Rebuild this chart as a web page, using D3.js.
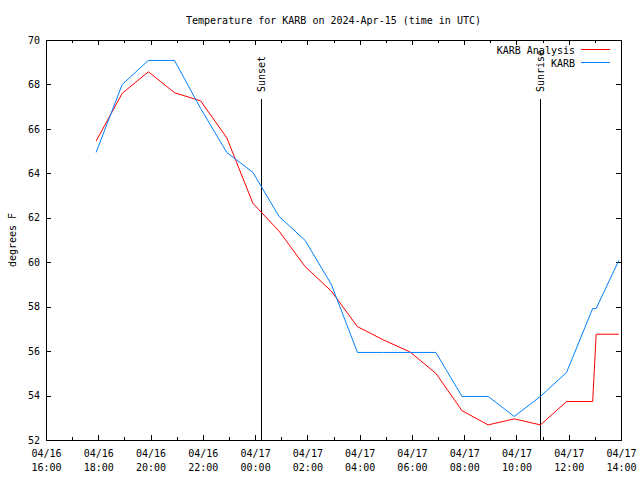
<!DOCTYPE html>
<html><head><meta charset="utf-8">
<script src="https://cdn.jsdelivr.net/npm/d3@7"></script>
<style>
body{margin:0;background:#fff}
svg{display:block}
text{font-family:"DejaVu Sans Mono","Liberation Mono",monospace;font-size:10px;fill:#000}
</style>
</head><body><svg id="c" width="640" height="480"></svg>
<script>
// ---- data ----
const times = [
  "2024-04-16 17:55","2024-04-16 18:55","2024-04-16 19:55","2024-04-16 20:55",
  "2024-04-16 21:55","2024-04-16 22:55","2024-04-16 23:55","2024-04-17 00:55",
  "2024-04-17 01:55","2024-04-17 02:55","2024-04-17 03:55","2024-04-17 04:55",
  "2024-04-17 05:55","2024-04-17 06:55","2024-04-17 07:55","2024-04-17 08:55",
  "2024-04-17 09:55","2024-04-17 10:55","2024-04-17 11:55","2024-04-17 12:55",
  "2024-04-17 13:03","2024-04-17 13:55"];
const karbAnalysis = [65.45,67.6,68.57,67.63,67.26,65.6,62.65,61.4,59.8,58.7,57.1,56.5,
  55.97,55.0,53.32,52.68,52.95,52.68,53.73,53.73,56.76,56.76];
const karb = [64.94,68.0,69.08,69.08,66.92,64.94,64.04,62.06,60.98,59.0,55.94,55.94,
  55.94,55.94,53.96,53.96,53.06,53.96,55.04,57.92,57.92,60.08];
const seriesNames = ["KARB Analysis","KARB"];
const seriesColors = ["#ff0000","#0080ff"];
const yTicks = [52,54,56,58,60,62,64,66,68,70];
const xDomain = ["2024-04-16 16:00","2024-04-17 14:00"];
const eventLabels = ["Sunset","Sunrise"];
const eventTimes = ["2024-04-17 00:14","2024-04-17 10:54"];
const titleText = "Temperature for KARB on 2024-Apr-15 (time in UTC)";
const yLabel = "degrees F";

// ---- layout ----
const L=46, R=621, T=40, B=440;
const parse = d3.utcParse("%Y-%m-%d %H:%M");
const svg = d3.select("#c");
svg.append("rect").attr("width",640).attr("height",480).attr("fill","#fff");

const x = d3.scaleUtc().domain(xDomain.map(parse)).range([L,R]);
const y = d3.scaleLinear().domain([52,70]).range([B,T]);

// minor ticks (hourly)
const minorB = d3.axisBottom(x).ticks(d3.utcHour.every(1)).tickSize(-3).tickFormat("");
const minorT = d3.axisTop(x).ticks(d3.utcHour.every(1)).tickSize(-3).tickFormat("");
// major ticks
const fmtD = d3.utcFormat("%m/%d"), fmtH = d3.utcFormat("%H:%M");
const majorB = d3.axisBottom(x).ticks(d3.utcHour.every(2)).tickSize(-5).tickPadding(9).tickFormat(fmtD);
const majorT = d3.axisTop(x).ticks(d3.utcHour.every(2)).tickSize(-5).tickFormat("");
const yL = d3.axisLeft(y).tickValues(yTicks).tickSize(-5).tickPadding(6).tickFormat(d3.format("d"));
const yR = d3.axisRight(y).tickValues(yTicks).tickSize(-5).tickFormat("");

function add(ax, tr){
  const g = svg.append("g").attr("transform",tr).call(ax);
  g.select(".domain").remove();
  g.selectAll("line").attr("stroke","#000").attr("shape-rendering","crispEdges");
  g.selectAll("text").attr("font-family",null).attr("font-size",null).attr("fill","#000");
  return g;
}
add(minorB,`translate(0,${B})`);
add(minorT,`translate(0,${T})`);
const gx = add(majorB,`translate(0,${B})`);
add(majorT,`translate(0,${T})`);
const gy = add(yL,`translate(${L},0)`);
add(yR,`translate(${R},0)`);

gx.selectAll(".tick text").each(function(d){
  const t = d3.select(this);
  t.text(null).attr("y",null).attr("dy",null);
  t.append("tspan").attr("x",0).attr("y",13).attr("dy","0.35em").text(fmtD(d));
  t.append("tspan").attr("x",0).attr("y",27).attr("dy","0.35em").text(fmtH(d));
});
gy.selectAll(".tick text").attr("x",-6);

// frame
svg.append("rect").attr("x",L+0.5).attr("y",T+0.5).attr("width",R-L).attr("height",B-T)
  .attr("fill","none").attr("stroke","#000").attr("shape-rendering","crispEdges");

// event lines
eventTimes.forEach((et,i)=>{
  const ex = Math.round(x(parse(et)))+0.5;
  svg.append("line").attr("x1",ex).attr("x2",ex).attr("y1",99).attr("y2",B)
    .attr("stroke","#000").attr("shape-rendering","crispEdges");
  svg.append("text").attr("transform",`translate(${ex},92) rotate(-90)`)
    .attr("dy","0.35em").attr("text-anchor","start").text(eventLabels[i]);
});

// series
const seriesData = [karbAnalysis, karb];
const line = d3.line().x(d=>x(d.t)).y(d=>y(d.v));
seriesData.forEach((vals,i)=>{
  const pts = times.map((t,j)=>({t:parse(t), v:vals[j]}));
  svg.append("path").datum(pts).attr("d",line).attr("fill","none")
    .attr("stroke",seriesColors[i]).attr("stroke-width",1);
});

// legend
seriesNames.forEach((n,i)=>{
  const ly = 50 + i*13;
  svg.append("text").attr("x",575).attr("y",ly).attr("dy","0.35em").attr("text-anchor","end").text(n);
  svg.append("line").attr("x1",581).attr("x2",610).attr("y1",ly-0.5).attr("y2",ly-0.5)
    .attr("stroke",seriesColors[i]).attr("shape-rendering","crispEdges");
});

// title & y label
svg.append("text").attr("x",(L+R)/2).attr("y",20).attr("dy","0.35em").attr("text-anchor","middle").text(titleText);
svg.append("text").attr("transform","translate(12,240) rotate(-90)").attr("dy","0.35em")
  .attr("text-anchor","middle").text(yLabel);
</script>
</body></html>
